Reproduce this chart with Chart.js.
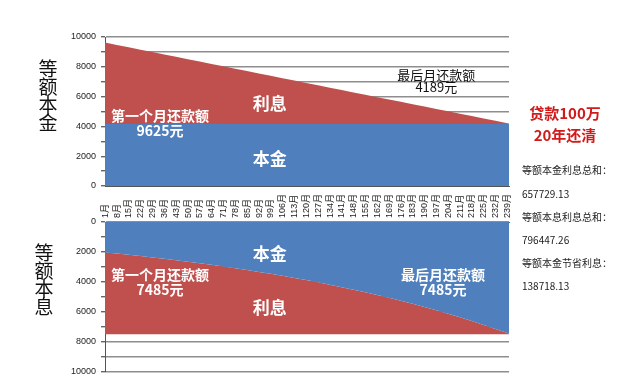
<!DOCTYPE html>
<html><head><meta charset="utf-8">
<script src="https://cdn.jsdelivr.net/npm/chart.js@4.4.1/dist/chart.umd.min.js"></script>
<style>
html,body{margin:0;padding:0;background:#fff;width:640px;height:392px;overflow:hidden;font-family:"Liberation Sans","Noto Sans CJK SC",sans-serif;}
canvas{position:absolute;left:0;}
#c1{top:0;}
#c2{top:180px;}
.vt{position:absolute;font-family:"Noto Sans CJK SC";font-size:19px;line-height:18px;color:#111;width:26px;text-align:center;}
.red{position:absolute;left:515px;width:100px;text-align:center;font-family:"Noto Sans CJK SC";font-weight:bold;font-size:15px;color:#d21a1a;line-height:20px;}
.info{position:absolute;left:522px;font-family:"Noto Sans CJK SC","Liberation Sans";font-size:10px;color:#222;line-height:12px;white-space:nowrap;}
</style></head>
<body>
<canvas id="c1" width="520" height="200"></canvas>
<canvas id="c2" width="520" height="212"></canvas>
<div class="vt" style="left:35px;top:59px;">等<br>额<br>本<br>金</div>
<div class="vt" style="left:31px;top:243px;">等<br>额<br>本<br>息</div>
<div class="red" style="top:103px;">贷款100万</div>
<div class="red" style="top:125px;">20年还清</div>
<div class="info" style="top:164px;">等额本金利息总和：</div>
<div class="info" style="top:188px;">657729.13</div>
<div class="info" style="top:211px;">等额本息利息总和：</div>
<div class="info" style="top:234px;">796447.26</div>
<div class="info" style="top:257px;">等额本金节省利息：</div>
<div class="info" style="top:280px;">138718.13</div>
<script>
// ---- data ----
const months = [1,8,15,22,29,36,43,50,57,64,71,78,85,92,99,106,113,120,127,134,141,148,155,162,169,176,183,190,197,204,211,218,225,232,239,240];
const tickMonths = [1,8,15,22,29,36,43,50,57,64,71,78,85,92,99,106,113,120,127,134,141,148,155,162,169,176,183,190,197,204,211,218,225,232,239];
const tickLabels = ['1月','8月','15月','22月','29月','36月','43月','50月','57月','64月','71月','78月','85月','92月','99月','106月','113月','120月','127月','134月','141月','148月','155月','162月','169月','176月','183月','190月','197月','204月','211月','218月','225月','232月','239月'];
// 等额本金 (equal principal): principal part and total monthly payment
const ebjPrincipal = [4167,4167,4167,4167,4167,4167,4167,4167,4167,4167,4167,4167,4167,4167,4167,4167,4167,4167,4167,4167,4167,4167,4167,4167,4167,4167,4167,4167,4167,4167,4167,4167,4167,4167,4167,4167];
const ebjPayment = [9625,9466,9307,9148,8988,8829,8670,8511,8352,8193,8033,7874,7715,7556,7397,7238,7078,6919,6760,6601,6442,6283,6123,5964,5805,5646,5487,5328,5168,5009,4850,4691,4532,4373,4212,4189];
// 等额本息 (equal installment): principal part and total monthly payment
const ebxPrincipal = [2027,2106,2187,2272,2360,2452,2547,2646,2749,2855,2966,3081,3201,3325,3454,3588,3728,3873,4023,4179,4342,4510,4685,4867,5056,5253,5457,5669,5889,6118,6355,6602,6859,7125,7402,7442];
const ebxPayment = [7485,7485,7485,7485,7485,7485,7485,7485,7485,7485,7485,7485,7485,7485,7485,7485,7485,7485,7485,7485,7485,7485,7485,7485,7485,7485,7485,7485,7485,7485,7485,7485,7485,7485,7485,7485];
const yLabelValues = [0,2000,4000,6000,8000,10000];

const BLUE = '#4f7fbd', RED = '#c0504d';
const pts = arr => months.map((m,i)=>({x:m,y:arr[i]}));

const notesPlugin = {
  id:'notes',
  afterDatasetsDraw(chart, args, opts){
    const {ctx} = chart; const x = chart.scales.x, y = chart.scales.y;
    (opts.items||[]).forEach(n=>{
      ctx.save();
      ctx.font = n.font; ctx.fillStyle = n.color;
      ctx.textAlign='center'; ctx.textBaseline='middle';
      ctx.fillText(n.text, x.getPixelForValue(n.m), y.getPixelForValue(n.v));
      ctx.restore();
    });
  }
};
const CJK = '"Noto Sans CJK SC", sans-serif';
const yAxis = (rev) => ({
  reverse: rev, min:0, max:10000,
  afterBuildTicks(s){ s.ticks = []; for (let v=0; v<=10000; v+=1000) s.ticks.push({value:v}); },
  ticks:{ autoSkip:false, padding:5, color:'#222', font:{family:'"Liberation Sans", sans-serif', size:9},
    callback:(v)=> yLabelValues.includes(v) ? String(v) : '' },
  grid:{ color:'#8e8e8e', lineWidth:1.4, tickLength:4, tickColor:'#666' },
  border:{ color:'#555', width:1 },
  afterFit(s){ s.width = 105; }
});
const common = {
  responsive:false, animation:false,
  elements:{ point:{radius:0}, line:{borderWidth:0, tension:0} },
};

new Chart(document.getElementById('c1'), {
  type:'line',
  data:{ datasets:[
    { data: pts(ebjPrincipal), backgroundColor: BLUE, borderColor: BLUE, fill:'origin' },
    { data: pts(ebjPayment), backgroundColor: RED, borderColor: RED, fill:'-1' }
  ]},
  plugins:[notesPlugin],
  options:Object.assign({}, common, {
    layout:{ padding:{ left:0, right:11, top:37, bottom:14 } },
    plugins:{ legend:{display:false}, tooltip:{enabled:false},
      notes:{ items:[
        {text:'第一个月还款额', m:33.5, v:4700, font:'bold 14px '+CJK, color:'#fff'},
        {text:'9625元', m:33.5, v:3680, font:'bold 14px '+CJK, color:'#fff'},
        {text:'利息', m:98.5, v:5560, font:'bold 17px '+CJK, color:'#fff'},
        {text:'本金', m:98.5, v:1860, font:'bold 17px '+CJK, color:'#fff'},
        {text:'最后月还款额', m:197, v:7450, font:'13px '+CJK, color:'#111'},
        {text:'4189元', m:197, v:6640, font:'13px '+CJK, color:'#111'}
      ]}},
    scales:{
      x:{ type:'linear', min:1, max:240, grid:{display:false}, ticks:{display:false}, border:{display:true, color:'#555'}, afterFit(s){ s.height = 0; } },
      y: yAxis(false)
    }
  })
});

new Chart(document.getElementById('c2'), {
  type:'line',
  data:{ datasets:[
    { data: pts(ebxPrincipal), backgroundColor: BLUE, borderColor: BLUE, fill:'origin' },
    { data: pts(ebxPayment), backgroundColor: RED, borderColor: RED, fill:'-1' }
  ]},
  plugins:[notesPlugin],
  options:Object.assign({}, common, {
    layout:{ padding:{ left:0, right:11, top:0, bottom:20 } },
    plugins:{ legend:{display:false}, tooltip:{enabled:false},
      notes:{ items:[
        {text:'本金', m:98.5, v:2070, font:'bold 17px '+CJK, color:'#fff'},
        {text:'利息', m:98.5, v:5670, font:'bold 17px '+CJK, color:'#fff'},
        {text:'第一个月还款额', m:33.5, v:3530, font:'bold 14px '+CJK, color:'#fff'},
        {text:'7485元', m:33.5, v:4530, font:'bold 14px '+CJK, color:'#fff'},
        {text:'最后月还款额', m:201, v:3530, font:'bold 14px '+CJK, color:'#fff'},
        {text:'7485元', m:201, v:4530, font:'bold 14px '+CJK, color:'#fff'}
      ]}},
    scales:{
      x:{ type:'linear', position:'top', min:1, max:240,
        afterBuildTicks(s){ s.ticks = tickMonths.map(v=>({value:v})); },
        ticks:{ autoSkip:false, minRotation:90, maxRotation:90, padding:4, labelOffset:11, color:'#222',
          font:{family:'"Liberation Sans","Noto Sans CJK SC", sans-serif', size:9},
          callback:(v,i)=> tickLabels[i] },
        grid:{display:false, drawTicks:false}, border:{display:true, color:'#555'},
        afterFit(s){ s.height = 42; } },
      y: yAxis(true)
    }
  })
});
</script>
</body></html>
